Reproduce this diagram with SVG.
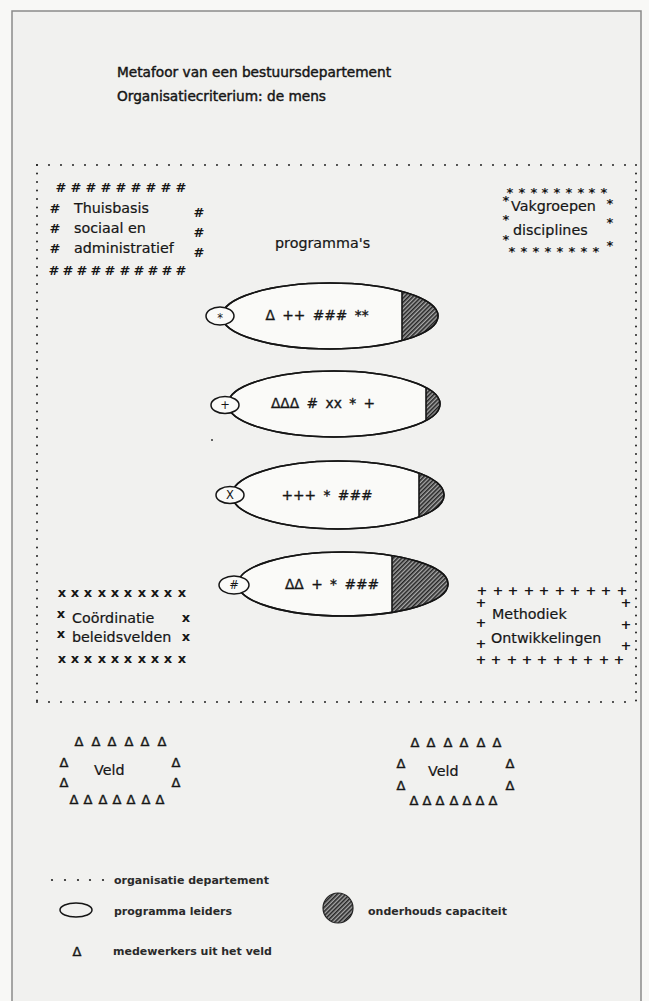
<svg xmlns="http://www.w3.org/2000/svg" width="649" height="1001" viewBox="0 0 649 1001">
<style>
text{font-family:"DejaVu Sans","Liberation Sans",sans-serif;fill:#161616}
.title{font-size:13.7px;stroke:#161616;stroke-width:0.45}
.lbl{font-size:14.3px;stroke:#161616;stroke-width:0.2}
.sym{font-size:13px;font-weight:bold;text-anchor:middle}
.tri{font-size:13px;text-anchor:middle;stroke:#161616;stroke-width:0.45}
.ell{font-size:13.8px;text-anchor:middle;word-spacing:3px;stroke:#161616;stroke-width:0.35}
.small{font-size:11.5px;text-anchor:middle}
.leg{font-size:11px;font-weight:bold;fill:#2a2a2a}
.big{fill:#fafaf8;stroke:#151515;stroke-width:1.6}
.cap{fill:#fafaf8;stroke:#151515;stroke-width:1.5}
.chord{stroke:#151515;stroke-width:1.6}
.dots{fill:none;stroke:#222;stroke-width:2;stroke-linecap:round}
</style>
<defs>
<pattern id="hatch" width="3" height="3" patternUnits="userSpaceOnUse" patternTransform="rotate(45)">
<rect width="3" height="3" fill="#a8a8a8"/>
<line x1="0.8" y1="0" x2="0.8" y2="3" stroke="#1e1e1e" stroke-width="1.5"/>
</pattern>
<clipPath id="c1"><ellipse cx="330" cy="316" rx="108" ry="33"/></clipPath>
<clipPath id="c2"><ellipse cx="334" cy="404" rx="106" ry="33"/></clipPath>
<clipPath id="c3"><ellipse cx="338" cy="495" rx="106" ry="34"/></clipPath>
<clipPath id="c4"><ellipse cx="343" cy="584" rx="105" ry="32"/></clipPath>
</defs>
<rect x="0" y="0" width="649" height="1001" fill="#f8f8f6"/>
<rect x="12" y="11" width="629" height="995" fill="#f1f1ef" stroke="#8a8a8a" stroke-width="1.5"/>

<g id="title">
<text class="title" x="117" y="77">Metafoor van een bestuursdepartement</text>
<text class="title" x="117" y="101">Organisatiecriterium: de mens</text>
</g>

<g id="departement">
<path class="dots" d="M37 165 H636" stroke-dasharray="0 12"/>
<path class="dots" d="M37 702 H636" stroke-dasharray="0 12"/>
<path class="dots" d="M37 165 V702" stroke-dasharray="0 8.5"/>
<path class="dots" d="M636 165 V702" stroke-dasharray="0 8.5"/>
</g>

<g id="thuisbasis">
<text class="sym" x="61 76 91 106 121 136 151 166 181" y="192">#########</text>
<text class="sym" x="55 55 55" y="213 233 253">###</text>
<text class="sym" x="199 199 199" y="217 237 257">###</text>
<text class="lbl" x="74" y="213">Thuisbasis</text>
<text class="lbl" x="74" y="233">sociaal en</text>
<text class="lbl" x="74" y="253">administratief</text>
<text class="sym" x="54 68 82 96 110 125 139 153 167 181" y="275">##########</text>
</g>

<g id="programmas-label">
<text class="lbl" x="275" y="248">programma's</text>
</g>

<g id="vakgroepen">
<text class="sym" x="510 522 534 545 557 569 581 592 604" y="197">*********</text>
<text class="sym" x="506 506 506" y="205 224 244">***</text>
<text class="sym" x="610 610 610" y="208 227 250">***</text>
<text class="sym" x="512 524 536 548 560 572 584 596" y="256">********</text>
<text class="lbl" x="511" y="211">Vakgroepen</text>
<text class="lbl" x="513" y="235">disciplines</text>
</g>

<g id="programma1">
<ellipse class="big" cx="330" cy="316" rx="108" ry="33"/>
<rect x="402" y="283" width="40" height="67" fill="url(#hatch)" clip-path="url(#c1)"/>
<line class="chord" x1="402" y1="291.4" x2="402" y2="340.6"/>
<ellipse cx="330" cy="316" rx="108" ry="33" fill="none" stroke="#151515" stroke-width="1.6"/>
<ellipse class="cap" cx="220" cy="316" rx="14" ry="9"/>
<text class="small" x="220" y="322">*</text>
<text class="ell" x="317" y="320">Δ ++ ### **</text>
</g>

<g id="programma2">
<ellipse class="big" cx="334" cy="404" rx="106" ry="33"/>
<rect x="426" y="371" width="20" height="67" fill="url(#hatch)" clip-path="url(#c2)"/>
<line class="chord" x1="426" y1="387.6" x2="426" y2="420.4"/>
<ellipse cx="334" cy="404" rx="106" ry="33" fill="none" stroke="#151515" stroke-width="1.6"/>
<ellipse class="cap" cx="225" cy="405" rx="14" ry="8.5"/>
<text class="small" x="225" y="409">+</text>
<text class="ell" x="323" y="408">ΔΔΔ # xx * +</text>
<circle cx="212" cy="440" r="1" fill="#333"/>
</g>

<g id="programma3">
<ellipse class="big" cx="338" cy="495" rx="106" ry="34"/>
<rect x="419" y="461" width="30" height="68" fill="url(#hatch)" clip-path="url(#c3)"/>
<line class="chord" x1="419" y1="473" x2="419" y2="517"/>
<ellipse cx="338" cy="495" rx="106" ry="34" fill="none" stroke="#151515" stroke-width="1.6"/>
<ellipse class="cap" cx="230" cy="495" rx="14" ry="8.5"/>
<text class="small" x="230" y="499">X</text>
<text class="ell" x="327" y="500">+++ * ###</text>
</g>

<g id="programma4">
<ellipse class="big" cx="343" cy="584" rx="105" ry="32"/>
<rect x="392" y="552" width="60" height="64" fill="url(#hatch)" clip-path="url(#c4)"/>
<line class="chord" x1="392" y1="555.7" x2="392" y2="612.3"/>
<ellipse cx="343" cy="584" rx="105" ry="32" fill="none" stroke="#151515" stroke-width="1.6"/>
<ellipse class="cap" cx="234" cy="585" rx="15" ry="9"/>
<text class="small" x="234" y="589" font-style="italic">#</text>
<text class="ell" x="332" y="589">ΔΔ + * ###</text>
</g>

<g id="coordinatie">
<text class="sym" x="62 75 88 102 115 128 142 155 168 182" y="597">xxxxxxxxxx</text>
<text class="sym" x="61 61" y="618 638">xx</text>
<text class="sym" x="186 186" y="622 641">xx</text>
<text class="lbl" x="72" y="623">Coördinatie</text>
<text class="lbl" x="72" y="642">beleidsvelden</text>
<text class="sym" x="62 75 88 102 115 128 142 155 168 182" y="663">xxxxxxxxxx</text>
</g>

<g id="methodiek">
<text class="sym" x="482 498 513 529 544 560 575 591 606 622" y="595">++++++++++</text>
<text class="sym" x="481 481 481" y="607 627 648">+++</text>
<text class="sym" x="626 626 626" y="607 629 650">+++</text>
<text class="lbl" x="492" y="619">Methodiek</text>
<text class="lbl" x="491" y="643">Ontwikkelingen</text>
<text class="sym" x="481 496 512 527 542 558 573 588 604 619" y="664">++++++++++</text>
</g>

<g id="veld1">
<text class="tri" x="79 96 112 129 145 162" y="746">ΔΔΔΔΔΔ</text>
<text class="tri" x="64 64" y="767 787">ΔΔ</text>
<text class="tri" x="176 176" y="767 787">ΔΔ</text>
<text class="lbl" x="94" y="775">Veld</text>
<text class="tri" x="74 88 103 117 131 146 160" y="804">ΔΔΔΔΔΔΔ</text>
</g>

<g id="veld2">
<text class="tri" x="415 431 448 464 481 497" y="747">ΔΔΔΔΔΔ</text>
<text class="tri" x="401 401" y="768 790">ΔΔ</text>
<text class="tri" x="510 510" y="768 790">ΔΔ</text>
<text class="lbl" x="428" y="776">Veld</text>
<text class="tri" x="414 427 440 454 467 480 493" y="805">ΔΔΔΔΔΔΔ</text>
</g>

<g id="connectors"/>

<g id="legend">
<g fill="#222">
<circle cx="52" cy="880" r="1.1"/><circle cx="65" cy="880" r="1.1"/><circle cx="78" cy="880" r="1.1"/><circle cx="90" cy="880" r="1.1"/><circle cx="103" cy="880" r="1.1"/>
</g>
<text class="leg" x="114" y="884">organisatie departement</text>
<ellipse cx="76" cy="910" rx="16" ry="7" fill="none" stroke="#151515" stroke-width="1.5"/>
<text class="leg" x="114" y="915">programma leiders</text>
<circle cx="338" cy="908" r="15" fill="url(#hatch)" stroke="#222" stroke-width="1.2"/>
<text class="leg" x="368" y="915">onderhouds capaciteit</text>
<text class="tri" x="77" y="956">Δ</text>
<text class="leg" x="113" y="955">medewerkers uit het veld</text>
</g>
</svg>
